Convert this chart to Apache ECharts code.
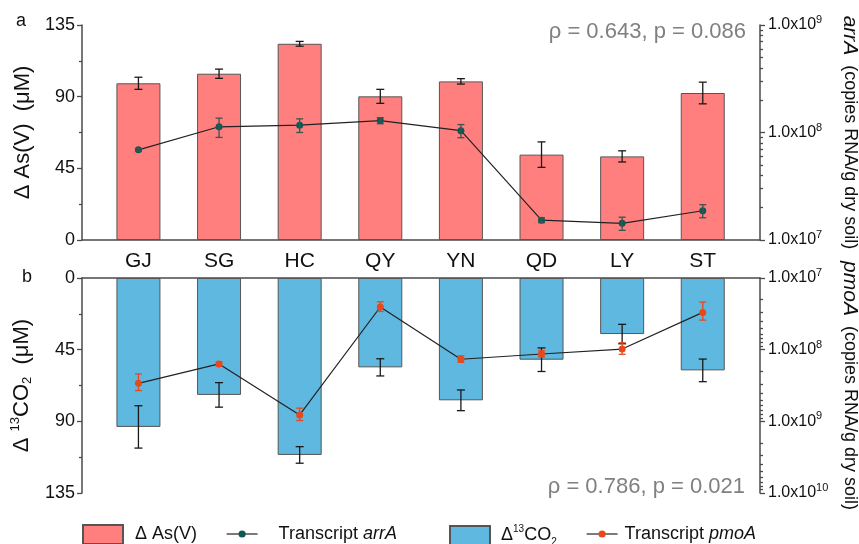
<!DOCTYPE html>
<html>
<head>
<meta charset="utf-8">
<script src="https://cdn.jsdelivr.net/npm/echarts@6/dist/echarts.min.js"></script>
<style>
  html, body { margin: 0; padding: 0; background: #fff; }
  #chart { width: 859px; height: 544px; }
</style>
</head>
<body>
<div id="chart"></div>
<script>
// Sampling sites
const sites = ['GJ', 'SG', 'HC', 'QY', 'YN', 'QD', 'LY', 'ST'];

// Panel a: As(V) reduction (µM) and arrA transcripts (copies RNA/g dry soil)
const asV = [98.4, 104.4, 123.2, 90.2, 99.6, 53.6, 52.5, 92.3];
const asVSd = [3.8, 2.9, 1.5, 4.4, 1.7, 8.0, 3.5, 6.8];
const arrA = [6.9e7, 1.13e8, 1.17e8, 1.29e8, 1.04e8, 1.53e7, 1.43e7, 1.87e7];
const arrASd = [2e6, 2.3e7, 1.7e7, 8.4e6, 1.45e7, 8e5, 2e6, 2.6e6];

// Panel b: 13CO2 production (µM) and pmoA transcripts (copies RNA/g dry soil)
const co2 = [93.5, 73.4, 111.1, 56.1, 76.8, 51.3, 35.2, 58.0];
const co2Sd = [13.3, 7.7, 5.2, 5.4, 6.5, 7.4, 6.1, 7.1];
const pmoA = [2.95e8, 1.58e8, 8.15e8, 2.54e7, 1.36e8, 1.15e8, 9.8e7, 3.02e7];
const pmoASd = [7.7e7, 1e7, 1.6e8, 3.9e6, 1.4e7, 1.15e7, 1.8e7, 8.5e6];

// Axis ticks
const concTicks = [0, 45, 90, 135];
const logTicksA = [1e7, 1e8, 1e9];
const logTicksB = [1e7, 1e8, 1e9, 1e10];

// Spearman statistics
const statsA = 'ρ = 0.643, p = 0.086';
const statsB = 'ρ = 0.786, p = 0.021';

const FONT = '"Liberation Sans", Arial, Helvetica, sans-serif';
const AXIS_COLOR = '#4a4a4a';
const TEXT_COLOR = '#111';
const RED = '#ff7f7f';
const BLUE = '#5eb8df';
const TEAL = '#0d5a55';
const ORANGE = '#e8491b';

function minorLogTicks(decades) {
  const out = [];
  for (let i = 0; i < decades.length - 1; i++) {
    for (let k = 2; k <= 9; k++) out.push(k * decades[i]);
  }
  return out;
}

const idx = sites.map((_, i) => i);
const pairs = (vals) => vals.map((v, i) => [i, v]);
const spans = (vals, sds) => vals.map((v, i) => [i, v - sds[i], v + sds[i]]);

function errorBars(xi, yi, vals, sds, color, cap, z) {
  return {
    type: 'custom',
    xAxisIndex: xi,
    yAxisIndex: yi,
    z: z,
    silent: true,
    data: spans(vals, sds),
    renderItem: function (params, api) {
      const lo = api.coord([api.value(0), api.value(1)]);
      const hi = api.coord([api.value(0), api.value(2)]);
      const style = { stroke: color, lineWidth: 1.3 };
      return {
        type: 'group',
        children: [
          { type: 'line', shape: { x1: lo[0], y1: lo[1], x2: hi[0], y2: hi[1] }, style: style },
          { type: 'line', shape: { x1: lo[0] - cap, y1: lo[1], x2: lo[0] + cap, y2: lo[1] }, style: style },
          { type: 'line', shape: { x1: hi[0] - cap, y1: hi[1], x2: hi[0] + cap, y2: hi[1] }, style: style }
        ]
      };
    }
  };
}

const axisLine = { show: true, onZero: false, lineStyle: { color: AXIS_COLOR, width: 1.5 } };
const tickLine = { color: AXIS_COLOR, width: 1.3 };

const xBase = {
  type: 'value',
  min: -0.7,
  max: 7.71,
  splitLine: { show: false },
  axisTick: { show: false },
  axisLine: axisLine
};

const expRich = {
  m: { fontSize: 16, color: TEXT_COLOR, fontFamily: FONT },
  s: { fontSize: 11, color: TEXT_COLOR, fontFamily: FONT, padding: [0, 0, 10, 0] }
};
const expLabel = (v) => '{m|1.0x10}{s|' + Math.round(Math.log10(v)) + '}';

const nameRich = {
  n: { fontSize: 22, color: TEXT_COLOR, fontFamily: FONT },
  sup: { fontSize: 13, color: TEXT_COLOR, fontFamily: FONT, padding: [0, 0, 12, 0] },
  sub: { fontSize: 13, color: TEXT_COLOR, fontFamily: FONT, padding: [12, 0, 0, 0] },
  i: { fontSize: 21, fontStyle: 'italic', color: TEXT_COLOR, fontFamily: FONT },
  r: { fontSize: 18, color: TEXT_COLOR, fontFamily: FONT }
};

function concAxis(grid, inverse, name, gap) {
  return {
    gridIndex: grid,
    type: 'value',
    position: 'left',
    inverse: inverse,
    min: 0,
    max: 135,
    interval: 45,
    axisLine: axisLine,
    axisTick: { show: true, length: 5, lineStyle: tickLine },
    minorTick: { show: true, splitNumber: 2, length: 3, lineStyle: tickLine },
    splitLine: { show: false },
    axisLabel: { customValues: concTicks, fontSize: 18, color: TEXT_COLOR, fontFamily: FONT, margin: 7 },
    name: name,
    nameLocation: 'middle',
    nameRotate: 90,
    nameGap: gap,
    nameTextStyle: { fontSize: 22, color: TEXT_COLOR, fontFamily: FONT, rich: nameRich }
  };
}

function logAxis(grid, inverse, ticks, name) {
  return {
    gridIndex: grid,
    type: 'log',
    logBase: 10,
    position: 'right',
    inverse: inverse,
    min: ticks[0],
    max: ticks[ticks.length - 1],
    axisLine: axisLine,
    axisTick: { show: true, customValues: ticks, length: 5, lineStyle: tickLine },
    splitLine: { show: false },
    axisLabel: { customValues: ticks, formatter: expLabel, rich: expRich, margin: 8 },
    name: name,
    nameLocation: 'middle',
    nameRotate: -90,
    nameGap: 79,
    nameTextStyle: { rich: nameRich }
  };
}

function logMinorAxis(grid, inverse, ticks) {
  return {
    gridIndex: grid,
    type: 'log',
    logBase: 10,
    position: 'right',
    inverse: inverse,
    min: ticks[0],
    max: ticks[ticks.length - 1],
    axisLine: { show: false, onZero: false },
    axisTick: { show: true, customValues: minorLogTicks(ticks), length: 3, lineStyle: tickLine },
    axisLabel: { show: false },
    splitLine: { show: false }
  };
}

const legendText = {
  fontSize: 18,
  color: TEXT_COLOR,
  fontFamily: FONT,
  rich: {
    n: { fontSize: 18, color: TEXT_COLOR, fontFamily: FONT },
    i: { fontSize: 18, fontStyle: 'italic', color: TEXT_COLOR, fontFamily: FONT },
    sup: { fontSize: 10, color: TEXT_COLOR, fontFamily: FONT, padding: [0, 0, 13, 0] },
    sub: { fontSize: 10, color: TEXT_COLOR, fontFamily: FONT, padding: [13, 0, 0, 0] }
  }
};
const legendNames = {
  'ΔAs(V)': '{n|Δ As(V)}',
  'Transcript arrA': '{n|Transcript }{i|arrA}',
  'Δ13CO2': '{n|Δ}{sup|13}{n|CO}{sub|2}',
  'Transcript pmoA': '{n|Transcript }{i|pmoA}'
};
function legendItem(name, left, top, w, h, gap, extra) {
  return Object.assign({
    data: [name],
    left: left,
    top: top,
    padding: 0,
    itemWidth: w,
    itemHeight: h,
    selectedMode: false,
    formatter: (n) => legendNames[n],
    textStyle: Object.assign({}, legendText, { padding: [0, 0, 0, gap] })
  }, extra || {});
}

const option = {
  animation: false,
  backgroundColor: '#fff',
  textStyle: { fontFamily: FONT },
  title: [
    { text: 'a', left: 16, top: 12, padding: 0, textStyle: { fontSize: 18, fontWeight: 'normal', color: TEXT_COLOR, fontFamily: FONT } },
    { text: 'b', left: 22, top: 268, padding: 0, textStyle: { fontSize: 18, fontWeight: 'normal', color: TEXT_COLOR, fontFamily: FONT } },
    { text: statsA, right: 113, top: 21, padding: 0, textStyle: { fontSize: 22, fontWeight: 'normal', color: '#808080', fontFamily: FONT } },
    { text: statsB, right: 114, top: 476, padding: 0, textStyle: { fontSize: 22, fontWeight: 'normal', color: '#808080', fontFamily: FONT } }
  ],
  legend: [
    legendItem('ΔAs(V)', 82, 524, 40, 19, 7, {
      data: [{ name: 'ΔAs(V)', icon: 'rect' }]
    }),
    legendItem('Transcript arrA', 226, 525, 31, 9, 16, {
      data: [{ name: 'Transcript arrA', itemStyle: { color: TEAL }, lineStyle: { color: '#222', width: 1.2 } }]
    }),
    legendItem('Δ13CO2', 449, 524, 40, 19, 6, {
      data: [{ name: 'Δ13CO2', icon: 'rect' }]
    }),
    legendItem('Transcript pmoA', 586, 525, 31, 9, 2, {
      data: [{ name: 'Transcript pmoA', itemStyle: { color: ORANGE }, lineStyle: { color: '#222', width: 1.2 } }]
    })
  ],
  grid: [
    { left: 82, right: 99, top: 25, height: 215, outerBoundsMode: 'none', containLabel: false },
    { left: 82, right: 99, top: 278, height: 215, outerBoundsMode: 'none', containLabel: false }
  ],
  xAxis: [
    Object.assign({}, xBase, {
      gridIndex: 0,
      position: 'bottom',
      axisLabel: { customValues: idx, formatter: (v) => sites[Math.round(v)], fontSize: 21, color: TEXT_COLOR, fontFamily: FONT, margin: 11 }
    }),
    Object.assign({}, xBase, {
      gridIndex: 1,
      position: 'top',
      axisLabel: { show: false }
    })
  ],
  yAxis: [
    concAxis(0, false, 'Δ As(V)  (μM)', 46),
    logAxis(0, false, logTicksA, '{i|arrA}{r|  (copies RNA/g dry soil)}'),
    logMinorAxis(0, false, logTicksA),
    concAxis(1, true, '{n|Δ }{sup|13}{n|CO}{sub|2}{n|  (μM)}', 42),
    logAxis(1, true, logTicksB, '{i|pmoA}{r|  (copies RNA/g dry soil)}'),
    logMinorAxis(1, true, logTicksB)
  ],
  series: [
    {
      name: 'ΔAs(V)', type: 'bar', xAxisIndex: 0, yAxisIndex: 0, barWidth: 44, z: 2,
      itemStyle: { color: RED, borderColor: '#555', borderWidth: 1 },
      data: pairs(asV)
    },
    errorBars(0, 0, asV, asVSd, '#1a1a1a', 4, 3),
    {
      name: 'Transcript arrA', type: 'line', xAxisIndex: 0, yAxisIndex: 1, z: 4,
      symbol: 'circle', symbolSize: 7,
      lineStyle: { color: '#222', width: 1.2 },
      itemStyle: { color: TEAL },
      data: pairs(arrA)
    },
    errorBars(0, 1, arrA, arrASd, '#3c5350', 3.5, 5),
    {
      name: 'Δ13CO2', type: 'bar', xAxisIndex: 1, yAxisIndex: 3, barWidth: 44, z: 2,
      itemStyle: { color: BLUE, borderColor: '#555', borderWidth: 1 },
      data: pairs(co2)
    },
    errorBars(1, 3, co2, co2Sd, '#1a1a1a', 4, 3),
    {
      name: 'Transcript pmoA', type: 'line', xAxisIndex: 1, yAxisIndex: 4, z: 4,
      symbol: 'circle', symbolSize: 7,
      lineStyle: { color: '#222', width: 1.2 },
      itemStyle: { color: ORANGE },
      data: pairs(pmoA)
    },
    errorBars(1, 4, pmoA, pmoASd, ORANGE, 3.5, 5)
  ]
};

const chart = echarts.init(document.getElementById('chart'), null, { renderer: 'canvas' });
chart.setOption(option);
</script>
</body>
</html>
